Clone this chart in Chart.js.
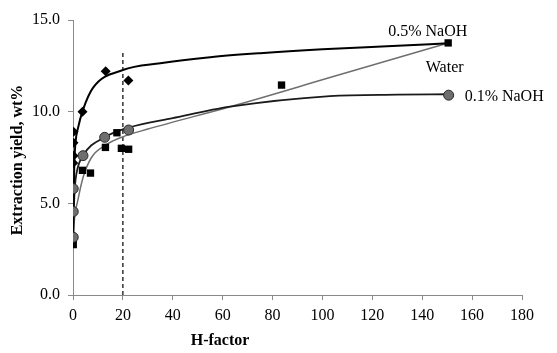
<!DOCTYPE html>
<html>
<head>
  <title>Extraction yield vs H-factor</title>
  <style>
    body {
      margin: 0;
      padding: 0;
      background-color: #ffffff;
    }

    .chart-box {
      width: 557px;
      height: 353px;
      position: relative;
    }
  </style>
  <script src="https://cdn.jsdelivr.net/npm/chart.js"></script>
</head>
<body>
<div class="chart-box">
  <canvas id="yieldChart"></canvas>
</div>

<script>
  // Measured points (H-factor, yield wt%)
  const naoh05H = [0.2, 0.2, 0.2, 0.1, 3.8, 13.1, 22.2];
  const naoh05Y = [8.9, 8.3, 7.6, 7.2, 10.0, 12.2, 11.7];

  const naoh01H = [0.1, 0.1, 0.1, 4.0, 12.7, 22.3, 150.6];
  const naoh01Y = [3.15, 4.55, 5.8, 7.6, 8.6, 9.0, 10.9];

  const waterH = [0.1, 3.8, 7.0, 13.0, 17.6, 19.4, 22.3, 83.6, 150.4];
  const waterY = [2.75, 6.8, 6.65, 8.05, 8.85, 8.0, 7.95, 11.45, 13.75];

  // Fitted curves
  const fit05H = [0, 0.5, 1, 2, 4, 8, 20, 35, 55, 75, 100, 128, 150.4];
  const fit05Y = [3.0, 7.0, 8.3, 9.1, 10.1, 11.3, 12.27, 12.64, 12.97, 13.19, 13.4, 13.58, 13.73];

  const fit01H = [0, 0.3, 0.7, 1.5, 4, 12.7, 22.8, 40, 63, 103, 130, 150.6];
  const fit01Y = [3.0, 4.5, 5.8, 6.7, 7.6, 8.6, 9.15, 9.65, 10.27, 10.85, 10.93, 10.95];

  const fitWaterH = [0, 0.5, 2, 4, 7.4, 12.7, 19.4, 30, 63, 103, 150.4];
  const fitWaterY = [2.7, 4.0, 5.2, 6.4, 7.5, 8.15, 8.6, 9.05, 10.27, 11.86, 13.75];

  // dashed marker at H = 20
  const markerH = [20, 20];
  const markerY = [0, 13.2];

  const xTicks = [0, 20, 40, 60, 80, 100, 120, 140, 160, 180];
  const yTicks = [0, 5, 10, 15];

  // series labels placed in data coordinates
  const seriesLabels = [
    { text: '0.5% NaOH', h: 142.2, y: 14.36, align: 'center' },
    { text: 'Water', h: 149, y: 12.38, align: 'center' },
    { text: '0.1% NaOH', h: 157, y: 10.82, align: 'left' }
  ];

  function toPoints(xs, ys) {
    return xs.map((x, i) => ({ x: x, y: ys[i] }));
  }

  const serif = "'Liberation Serif', 'Times New Roman', serif";

  // draws the axis titles and the series labels
  const textPlugin = {
    id: 'textPlugin',
    afterDraw(chart) {
      const ctx = chart.ctx;
      const xs = chart.scales.x;
      const ys = chart.scales.y;
      ctx.save();
      ctx.fillStyle = '#000';
      ctx.font = '16px ' + serif;
      ctx.textBaseline = 'middle';
      seriesLabels.forEach(l => {
        ctx.textAlign = l.align;
        ctx.fillText(l.text, xs.getPixelForValue(l.h), ys.getPixelForValue(l.y));
      });

      ctx.font = 'bold 16px ' + serif;
      ctx.textAlign = 'center';
      ctx.fillText('H-factor', 220, 341);

      ctx.translate(18, 160);
      ctx.rotate(-Math.PI / 2);
      ctx.fillText('Extraction yield, wt%', 0, 0);
      ctx.restore();
    }
  };

  const ctx = document.getElementById('yieldChart').getContext('2d');

  const yieldChart = new Chart(ctx, {
    type: 'scatter',
    data: {
      datasets: [
        {
          label: 'H20 marker',
          data: toPoints(markerH, markerY),
          showLine: true,
          borderColor: '#000',
          borderWidth: 1.2,
          borderDash: [4, 3],
          pointRadius: 0,
          order: 9
        },
        {
          label: 'Water fit',
          data: toPoints(fitWaterH, fitWaterY),
          showLine: true,
          borderColor: '#6f6f6f',
          borderWidth: 1.5,
          cubicInterpolationMode: 'monotone',
          pointRadius: 0,
          order: 8
        },
        {
          label: '0.1% NaOH fit',
          data: toPoints(fit01H, fit01Y),
          showLine: true,
          borderColor: '#1a1a1a',
          borderWidth: 1.8,
          cubicInterpolationMode: 'monotone',
          pointRadius: 0,
          order: 7
        },
        {
          label: '0.5% NaOH fit',
          data: toPoints(fit05H, fit05Y),
          showLine: true,
          borderColor: '#000',
          borderWidth: 2,
          cubicInterpolationMode: 'monotone',
          pointRadius: 0,
          order: 6
        },
        {
          label: 'Water',
          data: toPoints(waterH, waterY),
          pointStyle: 'rect',
          pointRadius: 5.2,
          backgroundColor: '#000',
          borderColor: '#000',
          borderWidth: 0,
          order: 5
        },
        {
          label: '0.1% NaOH',
          data: toPoints(naoh01H, naoh01Y),
          pointStyle: 'circle',
          pointRadius: 5,
          backgroundColor: '#6e6e6e',
          borderColor: '#2a2a2a',
          borderWidth: 1,
          order: 4
        },
        {
          label: '0.5% NaOH',
          data: toPoints(naoh05H, naoh05Y),
          pointStyle: 'rectRot',
          pointRadius: 5,
          backgroundColor: '#000',
          borderColor: '#000',
          borderWidth: 0,
          order: 3
        }
      ]
    },
    options: {
      responsive: true,
      maintainAspectRatio: false,
      animation: false,
      layout: {
        padding: { top: 20, right: 35, left: 0, bottom: 0 }
      },
      plugins: {
        legend: { display: false },
        tooltip: { enabled: false }
      },
      scales: {
        x: {
          type: 'linear',
          min: 0,
          max: 180,
          afterFit: scale => { scale.height = 58; },
          afterBuildTicks: scale => { scale.ticks = xTicks.map(v => ({ value: v })); },
          border: { display: true, color: '#8a8a8a', width: 1 },
          grid: { drawOnChartArea: false, drawTicks: true, tickLength: 5, color: '#8a8a8a' },
          ticks: {
            color: '#000',
            padding: 6,
            font: { family: serif, size: 16 }
          }
        },
        y: {
          type: 'linear',
          min: 0,
          max: 15,
          afterFit: scale => { scale.width = 73; },
          afterBuildTicks: scale => { scale.ticks = yTicks.map(v => ({ value: v })); },
          border: { display: true, color: '#8a8a8a', width: 1 },
          grid: { drawOnChartArea: false, drawTicks: true, tickLength: 5, color: '#8a8a8a' },
          ticks: {
            color: '#000',
            padding: 8,
            font: { family: serif, size: 16 },
            callback: v => v.toFixed(1)
          }
        }
      }
    },
    plugins: [textPlugin]
  });
</script>

</body>
</html>
